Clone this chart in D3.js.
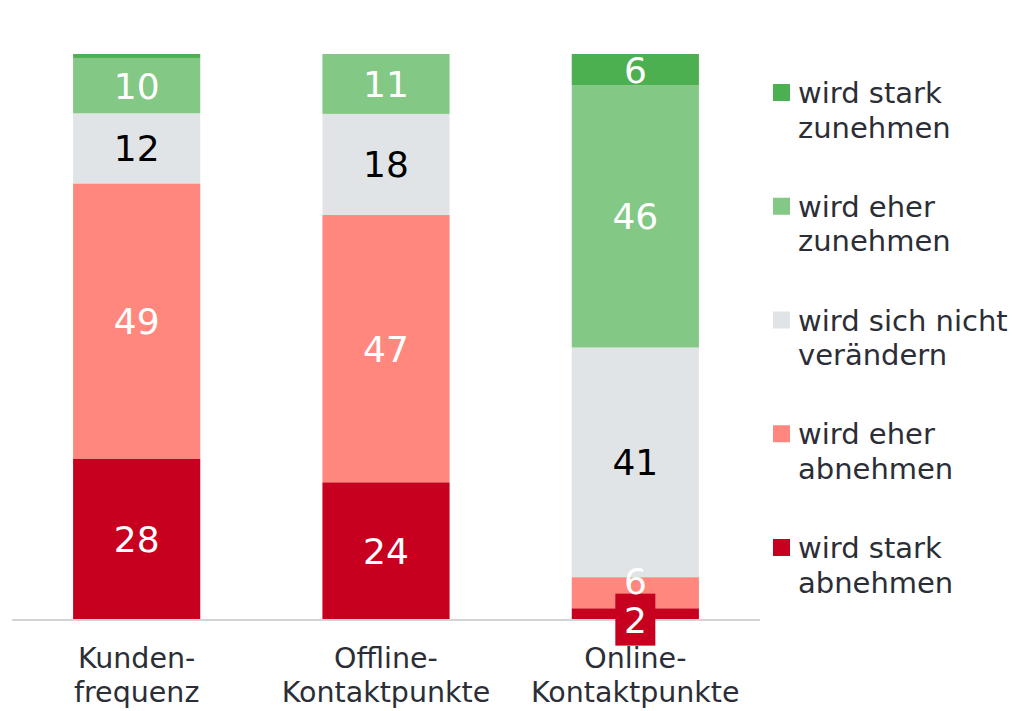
<!DOCTYPE html>
<html>
<head>
<meta charset="utf-8">
<script src="https://cdn.jsdelivr.net/npm/d3@7"></script>
<style>
  body { margin: 0; background: #fff; }
  svg { display: block; font-family: "DejaVu Sans", Verdana, sans-serif; }
</style>
</head>
<body>
<div id="chart"></div>
<script>
// data (shares in %, labels show rounded values)
const categories = ["Kundenfrequenz", "Offline-Kontaktpunkte", "Online-Kontaktpunkte"];
const categoryLabels = [["Kunden-", "frequenz"], ["Offline-", "Kontaktpunkte"], ["Online-", "Kontaktpunkte"]];
const seriesKeys = ["starkAb", "eherAb", "nicht", "eherZu", "starkZu"];
const seriesNames = ["wird stark abnehmen", "wird eher abnehmen", "wird sich nicht verändern", "wird eher zunehmen", "wird stark zunehmen"];
const legendLines = [["wird stark", "abnehmen"], ["wird eher", "abnehmen"], ["wird sich nicht", "verändern"], ["wird eher", "zunehmen"], ["wird stark", "zunehmen"]];
const starkAb = [28.4, 24.2, 1.9];
const eherAb = [48.7, 47.3, 5.5];
const nicht = [12.4, 17.9, 40.6];
const eherZu = [9.8, 10.6, 46.4];
const starkZu = [0.7, 0, 5.5];

const colors = ["#c8001f", "#ff877e", "#e1e4e7", "#83c885", "#4caf50"];
const textColors = ["#fff", "#fff", "#000", "#fff", "#fff"];

const table = categories.map((c, i) => ({
  cat: c,
  starkAb: starkAb[i], eherAb: eherAb[i], nicht: nicht[i], eherZu: eherZu[i], starkZu: starkZu[i]
}));

const svg = d3.select("#chart").append("svg")
  .attr("width", 1015)
  .attr("height", 711);

const x = d3.scaleBand()
  .domain(categories)
  .range([12, 760])
  .paddingInner(0.49)
  .paddingOuter(0.245);

const y = d3.scaleLinear()
  .domain([0, 1])
  .range([619, 54]);

const stack = d3.stack()
  .keys(seriesKeys)
  .offset(d3.stackOffsetExpand);
const series = stack(table);

// bars
const groups = svg.selectAll("g.series")
  .data(series)
  .join("g")
  .attr("class", "series")
  .attr("fill", (d, i) => colors[i]);

groups.selectAll("rect")
  .data(d => d)
  .join("rect")
  .attr("x", d => x(d.data.cat))
  .attr("y", d => y(d[1]))
  .attr("width", x.bandwidth())
  .attr("height", d => y(d[0]) - y(d[1]));

// baseline
svg.append("line")
  .attr("x1", 12).attr("x2", 760)
  .attr("y1", y(0) + 1).attr("y2", y(0) + 1)
  .attr("stroke", "#d4d4d4")
  .attr("stroke-width", 2);

// value labels
series.forEach((s, si) => {
  s.forEach(d => {
    const key = seriesKeys[si];
    const v = Math.round(d.data[key]);
    if (v < 2) return;
    const cx = x(d.data.cat) + x.bandwidth() / 2;
    let cy = (y(d[0]) + y(d[1])) / 2;
    const h = y(d[0]) - y(d[1]);
    if (h < 20) {
      // tiny segment: label sits on a coloured box
      cy += 6;
      svg.append("rect")
        .attr("x", cx - 20)
        .attr("y", cy - 26)
        .attr("width", 40)
        .attr("height", 52)
        .attr("fill", colors[si]);
    } else if (h < 40 && si === 1) {
      cy -= 12;
    }
    svg.append("text")
      .attr("x", cx)
      .attr("y", cy)
      .attr("text-anchor", "middle")
      .attr("dy", "0.36em")
      .attr("font-size", 36)
      .attr("fill", textColors[si])
      .text(v);
  });
});

// category labels
categories.forEach((c, i) => {
  const t = svg.append("text")
    .attr("x", x(c) + x.bandwidth() / 2)
    .attr("y", 668)
    .attr("text-anchor", "middle")
    .attr("font-size", 28.5)
    .attr("fill", "#2b2e36");
  categoryLabels[i].forEach((line, j) => {
    t.append("tspan")
      .attr("x", x(c) + x.bandwidth() / 2)
      .attr("dy", j === 0 ? 0 : 33.5)
      .text(line);
  });
});

// legend (top item = last series)
const legend = svg.append("g");
const legendOrder = d3.range(seriesKeys.length).reverse();
legendOrder.forEach((si, k) => {
  const gy = 92 + k * 113.75;
  legend.append("rect")
    .attr("x", 773)
    .attr("y", gy - 8)
    .attr("width", 17)
    .attr("height", 17)
    .attr("fill", colors[si]);
  const t = legend.append("text")
    .attr("x", 798)
    .attr("y", gy + 11)
    .attr("font-size", 29)
    .attr("fill", "#2b2e36");
  legendLines[si].forEach((line, j) => {
    t.append("tspan")
      .attr("x", 798)
      .attr("dy", j === 0 ? 0 : 34.5)
      .text(line);
  });
});
</script>
</body>
</html>
